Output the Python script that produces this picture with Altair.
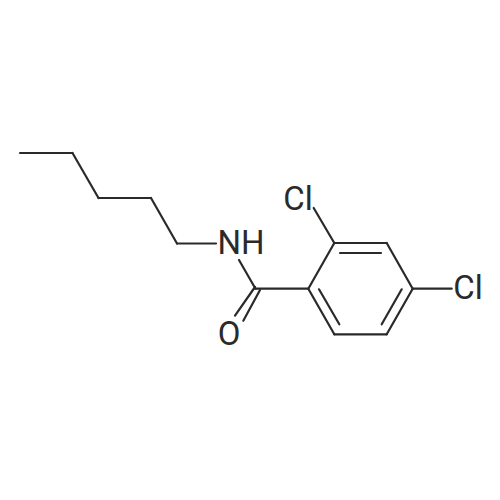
import altair as alt
import pandas as pd

# bond end points, read in picture units
bond_x1 = [20, 72.5, 98.5, 151, 177, 239, 255, 260, 255.5, 308.3, 334.3, 386.7, 412.7, 386.7, 334.3, 340, 319, 401.7, 334.3, 412.7]
bond_y1 = [153, 153, 198, 198, 243.5, 260, 287, 290, 288.7, 288.7, 243, 243, 288.7, 334.3, 334.3, 253, 289.3, 289.3, 243, 288.7]
bond_x2 = [72.5, 98.5, 151, 177, 216, 255.5, 235, 243.3, 308.3, 334.3, 386.7, 412.7, 386.7, 334.3, 308.3, 381, 339.3, 381.7, 313.7, 451.7]
bond_y2 = [153, 198, 198, 243.5, 243.5, 288.7, 315.7, 320.7, 288.7, 243, 243, 288.7, 334.3, 334.3, 288.7, 253, 324.3, 324.3, 208, 288.7]

atom_text = ["NH", "O", "Cl", "Cl"]
atom_x = [241, 229, 298, 468]
atom_y = [243.5, 335, 200, 289]

bonds = pd.DataFrame({"x": bond_x1, "y": bond_y1, "x2": bond_x2, "y2": bond_y2})
atoms = pd.DataFrame({"t": atom_text, "x": atom_x, "y": atom_y})

xs = alt.Scale(domain=[8, 492], range=[0, 484], nice=False, zero=False)
ys = alt.Scale(domain=[8, 492], range=[0, 484], nice=False, zero=False)

lines = alt.Chart(bonds).mark_rule(color="#2a2a2a", strokeWidth=2.2, strokeCap="round").encode(
    x=alt.X("x:Q", scale=xs, axis=None),
    y=alt.Y("y:Q", scale=ys, axis=None),
    x2="x2:Q",
    y2="y2:Q",
)
labels = alt.Chart(atoms).mark_text(
    font="Roboto", fontSize=33, color="#2a2a2a", align="center", baseline="middle"
).encode(
    x=alt.X("x:Q", scale=xs, axis=None),
    y=alt.Y("y:Q", scale=ys, axis=None),
    text="t:N",
)
chart = (lines + labels).properties(
    width=484, height=484, padding=0, autosize=alt.AutoSizeParams(type="none")
).configure_view(stroke=None)
chart.save("out.html", embed_options={"renderer": "svg", "actions": False})
